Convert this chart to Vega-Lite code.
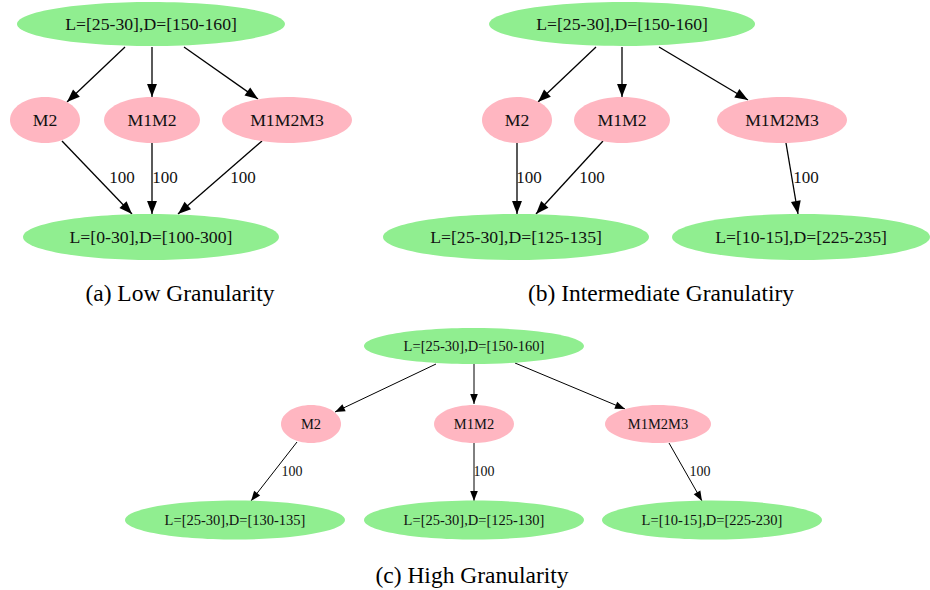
{
  "$schema": "https://vega.github.io/schema/vega-lite/v6.json",
  "width": 930,
  "height": 590,
  "padding": 0,
  "autosize": {"type": "fit", "contains": "padding"},
  "background": "white",
  "config": {"view": {"stroke": null}},
  "datasets": {
    "nodes": [
      {"panel": "a", "id": "a_top", "kind": "state", "label": "L=[25-30],D=[150-160]", "x": 151, "y": 24},
      {"panel": "a", "id": "a_m2", "kind": "mode", "label": "M2", "x": 45, "y": 120},
      {"panel": "a", "id": "a_m12", "kind": "mode", "label": "M1M2", "x": 152, "y": 120},
      {"panel": "a", "id": "a_m123", "kind": "mode", "label": "M1M2M3", "x": 287, "y": 120},
      {"panel": "a", "id": "a_bot", "kind": "state", "label": "L=[0-30],D=[100-300]", "x": 151, "y": 237},
      {"panel": "b", "id": "b_top", "kind": "state", "label": "L=[25-30],D=[150-160]", "x": 622, "y": 24},
      {"panel": "b", "id": "b_m2", "kind": "mode", "label": "M2", "x": 517, "y": 120},
      {"panel": "b", "id": "b_m12", "kind": "mode", "label": "M1M2", "x": 622, "y": 120},
      {"panel": "b", "id": "b_m123", "kind": "mode", "label": "M1M2M3", "x": 782, "y": 120},
      {"panel": "b", "id": "b_bl", "kind": "state", "label": "L=[25-30],D=[125-135]", "x": 516, "y": 237},
      {"panel": "b", "id": "b_br", "kind": "state", "label": "L=[10-15],D=[225-235]", "x": 801, "y": 237},
      {"panel": "c", "id": "c_top", "kind": "state", "label": "L=[25-30],D=[150-160]", "x": 474, "y": 346},
      {"panel": "c", "id": "c_m2", "kind": "mode", "label": "M2", "x": 311, "y": 424},
      {"panel": "c", "id": "c_m12", "kind": "mode", "label": "M1M2", "x": 474, "y": 424},
      {"panel": "c", "id": "c_m123", "kind": "mode", "label": "M1M2M3", "x": 658, "y": 424},
      {"panel": "c", "id": "c_bl", "kind": "state", "label": "L=[25-30],D=[130-135]", "x": 235, "y": 520},
      {"panel": "c", "id": "c_bm", "kind": "state", "label": "L=[25-30],D=[125-130]", "x": 474, "y": 520},
      {"panel": "c", "id": "c_br", "kind": "state", "label": "L=[10-15],D=[225-230]", "x": 712, "y": 520}
    ],
    "edges": [
      {"panel": "a", "x1": 125, "y1": 47, "x2": 67, "y2": 102, "label": "", "lx": 0, "ly": 0},
      {"panel": "a", "x1": 152, "y1": 47, "x2": 152, "y2": 97, "label": "", "lx": 0, "ly": 0},
      {"panel": "a", "x1": 184, "y1": 47, "x2": 258, "y2": 99, "label": "", "lx": 0, "ly": 0},
      {"panel": "a", "x1": 62, "y1": 141, "x2": 132, "y2": 214, "label": "100", "lx": 122, "ly": 178},
      {"panel": "a", "x1": 152, "y1": 143, "x2": 152, "y2": 214, "label": "100", "lx": 165, "ly": 178},
      {"panel": "a", "x1": 262, "y1": 141, "x2": 178, "y2": 214, "label": "100", "lx": 243, "ly": 178},
      {"panel": "b", "x1": 596, "y1": 47, "x2": 538, "y2": 102, "label": "", "lx": 0, "ly": 0},
      {"panel": "b", "x1": 622, "y1": 47, "x2": 622, "y2": 97, "label": "", "lx": 0, "ly": 0},
      {"panel": "b", "x1": 659, "y1": 47, "x2": 748, "y2": 100, "label": "", "lx": 0, "ly": 0},
      {"panel": "b", "x1": 517, "y1": 143, "x2": 517, "y2": 214, "label": "100", "lx": 529, "ly": 178},
      {"panel": "b", "x1": 603, "y1": 141, "x2": 536, "y2": 214, "label": "100", "lx": 592, "ly": 178},
      {"panel": "b", "x1": 786, "y1": 143, "x2": 798, "y2": 214, "label": "100", "lx": 806, "ly": 178},
      {"panel": "c", "x1": 436, "y1": 364, "x2": 335, "y2": 412, "label": "", "lx": 0, "ly": 0},
      {"panel": "c", "x1": 474, "y1": 364, "x2": 474, "y2": 404, "label": "", "lx": 0, "ly": 0},
      {"panel": "c", "x1": 515, "y1": 363, "x2": 625, "y2": 409, "label": "", "lx": 0, "ly": 0},
      {"panel": "c", "x1": 297, "y1": 442, "x2": 251, "y2": 501, "label": "100", "lx": 292, "ly": 472},
      {"panel": "c", "x1": 474, "y1": 443, "x2": 474, "y2": 501, "label": "100", "lx": 484, "ly": 472},
      {"panel": "c", "x1": 669, "y1": 443, "x2": 702, "y2": 501, "label": "100", "lx": 700, "ly": 472}
    ],
    "captions": [
      {"text": "(a)  Low Granularity", "x": 180, "y": 301},
      {"text": "(b)  Intermediate Granulatiry", "x": 661, "y": 301},
      {"text": "(c)  High Granularity", "x": 472, "y": 583}
    ]
  },
  "layer": [
    {
      "data": {"name": "edges"},
      "mark": {"type": "rule", "color": "black"},
      "encoding": {
        "x": {"field": "x1", "type": "quantitative", "scale": {"domain": [0, 930], "nice": false, "zero": false}, "axis": null},
        "y": {"field": "y1", "type": "quantitative", "scale": {"domain": [0, 590], "nice": false, "zero": false, "reverse": true}, "axis": null},
        "x2": {"field": "x2"},
        "y2": {"field": "y2"},
        "strokeWidth": {"condition": {"test": "datum.panel === 'c'", "value": 1}, "value": 1.3}
      }
    },
    {
      "data": {"name": "edges"},
      "transform": [
        {"calculate": "(atan2(datum.x2 - datum.x1, datum.y1 - datum.y2) * 180 / PI + 360) % 360", "as": "ang"}
      ],
      "mark": {"type": "point", "filled": true, "color": "black", "opacity": 1, "shape": "M0,0L-0.38,1L0.38,1Z", "strokeWidth": 0},
      "encoding": {
        "x": {"field": "x2", "type": "quantitative", "scale": {"domain": [0, 930], "nice": false, "zero": false}, "axis": null},
        "y": {"field": "y2", "type": "quantitative", "scale": {"domain": [0, 590], "nice": false, "zero": false, "reverse": true}, "axis": null},
        "angle": {"field": "ang", "type": "quantitative", "scale": null},
        "size": {"condition": {"test": "datum.panel === 'c'", "value": 400}, "value": 676}
      }
    },
    {
      "data": {"name": "nodes"},
      "mark": {"type": "point", "filled": true, "opacity": 1, "strokeWidth": 0, "size": 4},
      "encoding": {
        "x": {"field": "x", "type": "quantitative", "scale": {"domain": [0, 930], "nice": false, "zero": false}, "axis": null},
        "y": {"field": "y", "type": "quantitative", "scale": {"domain": [0, 590], "nice": false, "zero": false, "reverse": true}, "axis": null},
        "color": {"field": "kind", "type": "nominal", "scale": {"domain": ["state", "mode"], "range": ["#90ee90", "#ffb6c1"]}, "legend": null},
        "shape": {
          "field": "id", "type": "nominal", "legend": null,
          "scale": {
            "domain": ["a_top", "a_m2", "a_m12", "a_m123", "a_bot", "b_top", "b_m2", "b_m12", "b_m123", "b_bl", "b_br", "c_top", "c_m2", "c_m12", "c_m123", "c_bl", "c_bm", "c_br"],
            "range": [
              "M-134,0A134,22,0,1,0,134,0A134,22,0,1,0,-134,0Z",
              "M-35,0A35,23,0,1,0,35,0A35,23,0,1,0,-35,0Z",
              "M-48,0A48,23,0,1,0,48,0A48,23,0,1,0,-48,0Z",
              "M-65,0A65,23,0,1,0,65,0A65,23,0,1,0,-65,0Z",
              "M-128,0A128,23,0,1,0,128,0A128,23,0,1,0,-128,0Z",
              "M-133,0A133,22,0,1,0,133,0A133,22,0,1,0,-133,0Z",
              "M-35,0A35,23,0,1,0,35,0A35,23,0,1,0,-35,0Z",
              "M-48,0A48,23,0,1,0,48,0A48,23,0,1,0,-48,0Z",
              "M-65,0A65,23,0,1,0,65,0A65,23,0,1,0,-65,0Z",
              "M-133,0A133,23,0,1,0,133,0A133,23,0,1,0,-133,0Z",
              "M-129,0A129,23,0,1,0,129,0A129,23,0,1,0,-129,0Z",
              "M-110,0A110,18,0,1,0,110,0A110,18,0,1,0,-110,0Z",
              "M-30,0A30,19,0,1,0,30,0A30,19,0,1,0,-30,0Z",
              "M-40,0A40,19,0,1,0,40,0A40,19,0,1,0,-40,0Z",
              "M-53,0A53,19,0,1,0,53,0A53,19,0,1,0,-53,0Z",
              "M-110,0A110,19.5,0,1,0,110,0A110,19.5,0,1,0,-110,0Z",
              "M-110,0A110,19.5,0,1,0,110,0A110,19.5,0,1,0,-110,0Z",
              "M-110,0A110,19.5,0,1,0,110,0A110,19.5,0,1,0,-110,0Z"
            ]
          }
        }
      }
    },
    {
      "data": {"name": "nodes"},
      "mark": {"type": "text", "font": "Liberation Serif", "color": "#111111", "baseline": "middle", "align": "center", "dy": 1},
      "encoding": {
        "x": {"field": "x", "type": "quantitative", "scale": {"domain": [0, 930], "nice": false, "zero": false}, "axis": null},
        "y": {"field": "y", "type": "quantitative", "scale": {"domain": [0, 590], "nice": false, "zero": false, "reverse": true}, "axis": null},
        "text": {"field": "label"},
        "size": {"condition": {"test": "datum.panel === 'c'", "value": 14.5}, "value": 17.7}
      }
    },
    {
      "data": {"name": "edges"},
      "transform": [{"filter": "datum.label !== ''"}],
      "mark": {"type": "text", "font": "Liberation Serif", "color": "#111111", "baseline": "middle", "align": "center"},
      "encoding": {
        "x": {"field": "lx", "type": "quantitative", "scale": {"domain": [0, 930], "nice": false, "zero": false}, "axis": null},
        "y": {"field": "ly", "type": "quantitative", "scale": {"domain": [0, 590], "nice": false, "zero": false, "reverse": true}, "axis": null},
        "text": {"field": "label"},
        "size": {"condition": {"test": "datum.panel === 'c'", "value": 14}, "value": 17}
      }
    },
    {
      "data": {"name": "captions"},
      "mark": {"type": "text", "font": "Liberation Serif", "fontSize": 23.5, "color": "black", "baseline": "alphabetic", "align": "center"},
      "encoding": {
        "x": {"field": "x", "type": "quantitative", "scale": {"domain": [0, 930], "nice": false, "zero": false}, "axis": null},
        "y": {"field": "y", "type": "quantitative", "scale": {"domain": [0, 590], "nice": false, "zero": false, "reverse": true}, "axis": null},
        "text": {"field": "text"}
      }
    }
  ]
}
